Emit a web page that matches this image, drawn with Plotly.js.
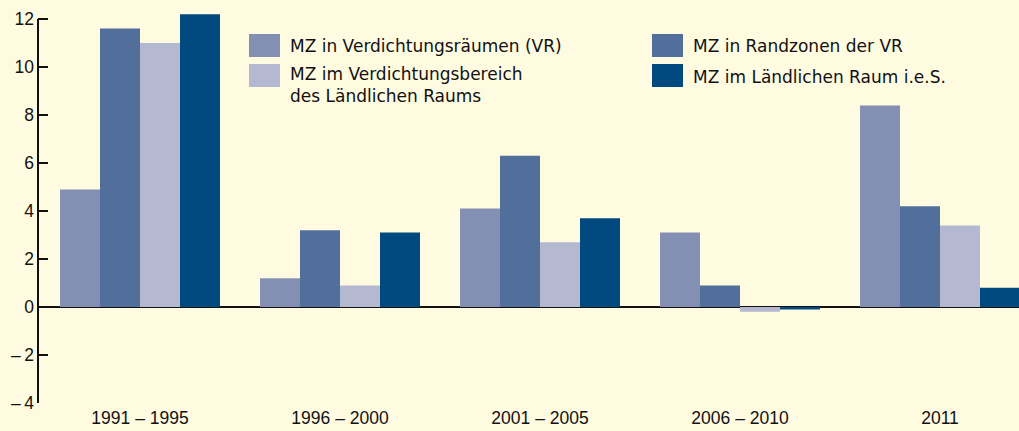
<!DOCTYPE html>
<html><head><meta charset="utf-8">
<script src="https://cdn.plot.ly/plotly-3.0.1.min.js"></script>
<style>html,body{margin:0;padding:0;background:#fffbe1}</style>
</head><body><div id="chart" style="width:1019px;height:431px"></div>
<script>
var categories = ["1991 – 1995", "1996 – 2000", "2001 – 2005", "2006 – 2010", "2011"];
var seriesNames = ["MZ in Verdichtungsräumen (VR)", "MZ in Randzonen der VR", "MZ im Verdichtungsbereich<br>des Ländlichen Raums", "MZ im Ländlichen Raum i.e.S."];
var vr = [4.9, 1.2, 4.1, 3.1, 8.4];
var randzonen = [11.6, 3.2, 6.3, 0.9, 4.2];
var verdichtungsbereich = [11.0, 0.9, 2.7, -0.2, 3.4];
var laendlich = [12.2, 3.1, 3.7, -0.1, 0.8];
var tickVals = [-4, -2, 0, 2, 4, 6, 8, 10, 12];
var tickText = ["\u2013\u20094", "\u2013\u20092", "0", "2", "4", "6", "8", "10", "12"];

var colors = ["#8490b3", "#526e9a", "#b4b8d0", "#014a7f"];
var values = [vr, randzonen, verdichtungsbereich, laendlich];
var FONT = "Liberation Sans, Arial, sans-serif";
var LFONT = "DejaVu Sans, sans-serif";

var W = 1019, H = 431, ML = 38, MR = 0, MT = 7, MB = 28;
function px(x) { return (x - ML) / (W - ML - MR); }
function py(y) { return (H - MB - y) / (H - MT - MB); }

var traces = values.map(function (v, i) {
  return { type: "bar", x: categories, y: v, name: seriesNames[i],
    marker: { color: colors[i], line: { width: 0 } }, showlegend: false, hoverinfo: "skip" };
});

// legend (swatch positions in pixels)
var legendItems = [
  { sx: 249, sy: 34, tx: 288, ty: 46 },
  { sx: 652, sy: 34, tx: 691, ty: 46 },
  { sx: 249, sy: 64, tx: 288, ty: 85 },
  { sx: 652, sy: 64, tx: 691, ty: 77 }
];
var shapes = [
  { type: "line", xref: "paper", yref: "y", x0: 0, x1: 0, y0: -4, y1: 12, line: { color: "#111", width: 2 } }
];
var annotations = [];
legendItems.forEach(function (it, i) {
  shapes.push({ type: "rect", xref: "paper", yref: "paper", x0: px(it.sx), x1: px(it.sx + 31),
    y0: py(it.sy), y1: py(it.sy + 23), fillcolor: colors[i], line: { width: 0 } });
  annotations.push({ xref: "paper", yref: "paper", x: px(it.tx), y: py(it.ty), xanchor: "left", yanchor: "middle",
    align: "left", showarrow: false, text: seriesNames[i], font: { family: LFONT, size: 17, color: "#111" } });
});

var layout = {
  width: W, height: H,
  margin: { l: ML, r: MR, t: MT, b: MB, pad: 0 },
  paper_bgcolor: "#fffbe1", plot_bgcolor: "#fffbe1",
  barmode: "group", bargap: 0.2, bargroupgap: 0,
  showlegend: false,
  font: { family: FONT, size: 17.5, color: "#111" },
  xaxis: { type: "category", range: [-0.51, 4.395], showline: false, ticks: "", showgrid: false,
    zeroline: false, tickfont: { family: FONT, size: 17.5, color: "#111" }, ticklabelstandoff: 2 },
  yaxis: { range: [-4, 12.5], tickvals: tickVals, ticktext: tickText, ticks: "inside", ticklen: 10,
    tickwidth: 2, tickcolor: "#111", showline: false, showgrid: false, zeroline: true,
    zerolinecolor: "#111", zerolinewidth: 2, tickfont: { family: FONT, size: 17.5, color: "#111" },
    ticklabelstandoff: 3 },
  shapes: shapes, annotations: annotations
};
Plotly.newPlot("chart", traces, layout, { staticPlot: true });
</script></body></html>
